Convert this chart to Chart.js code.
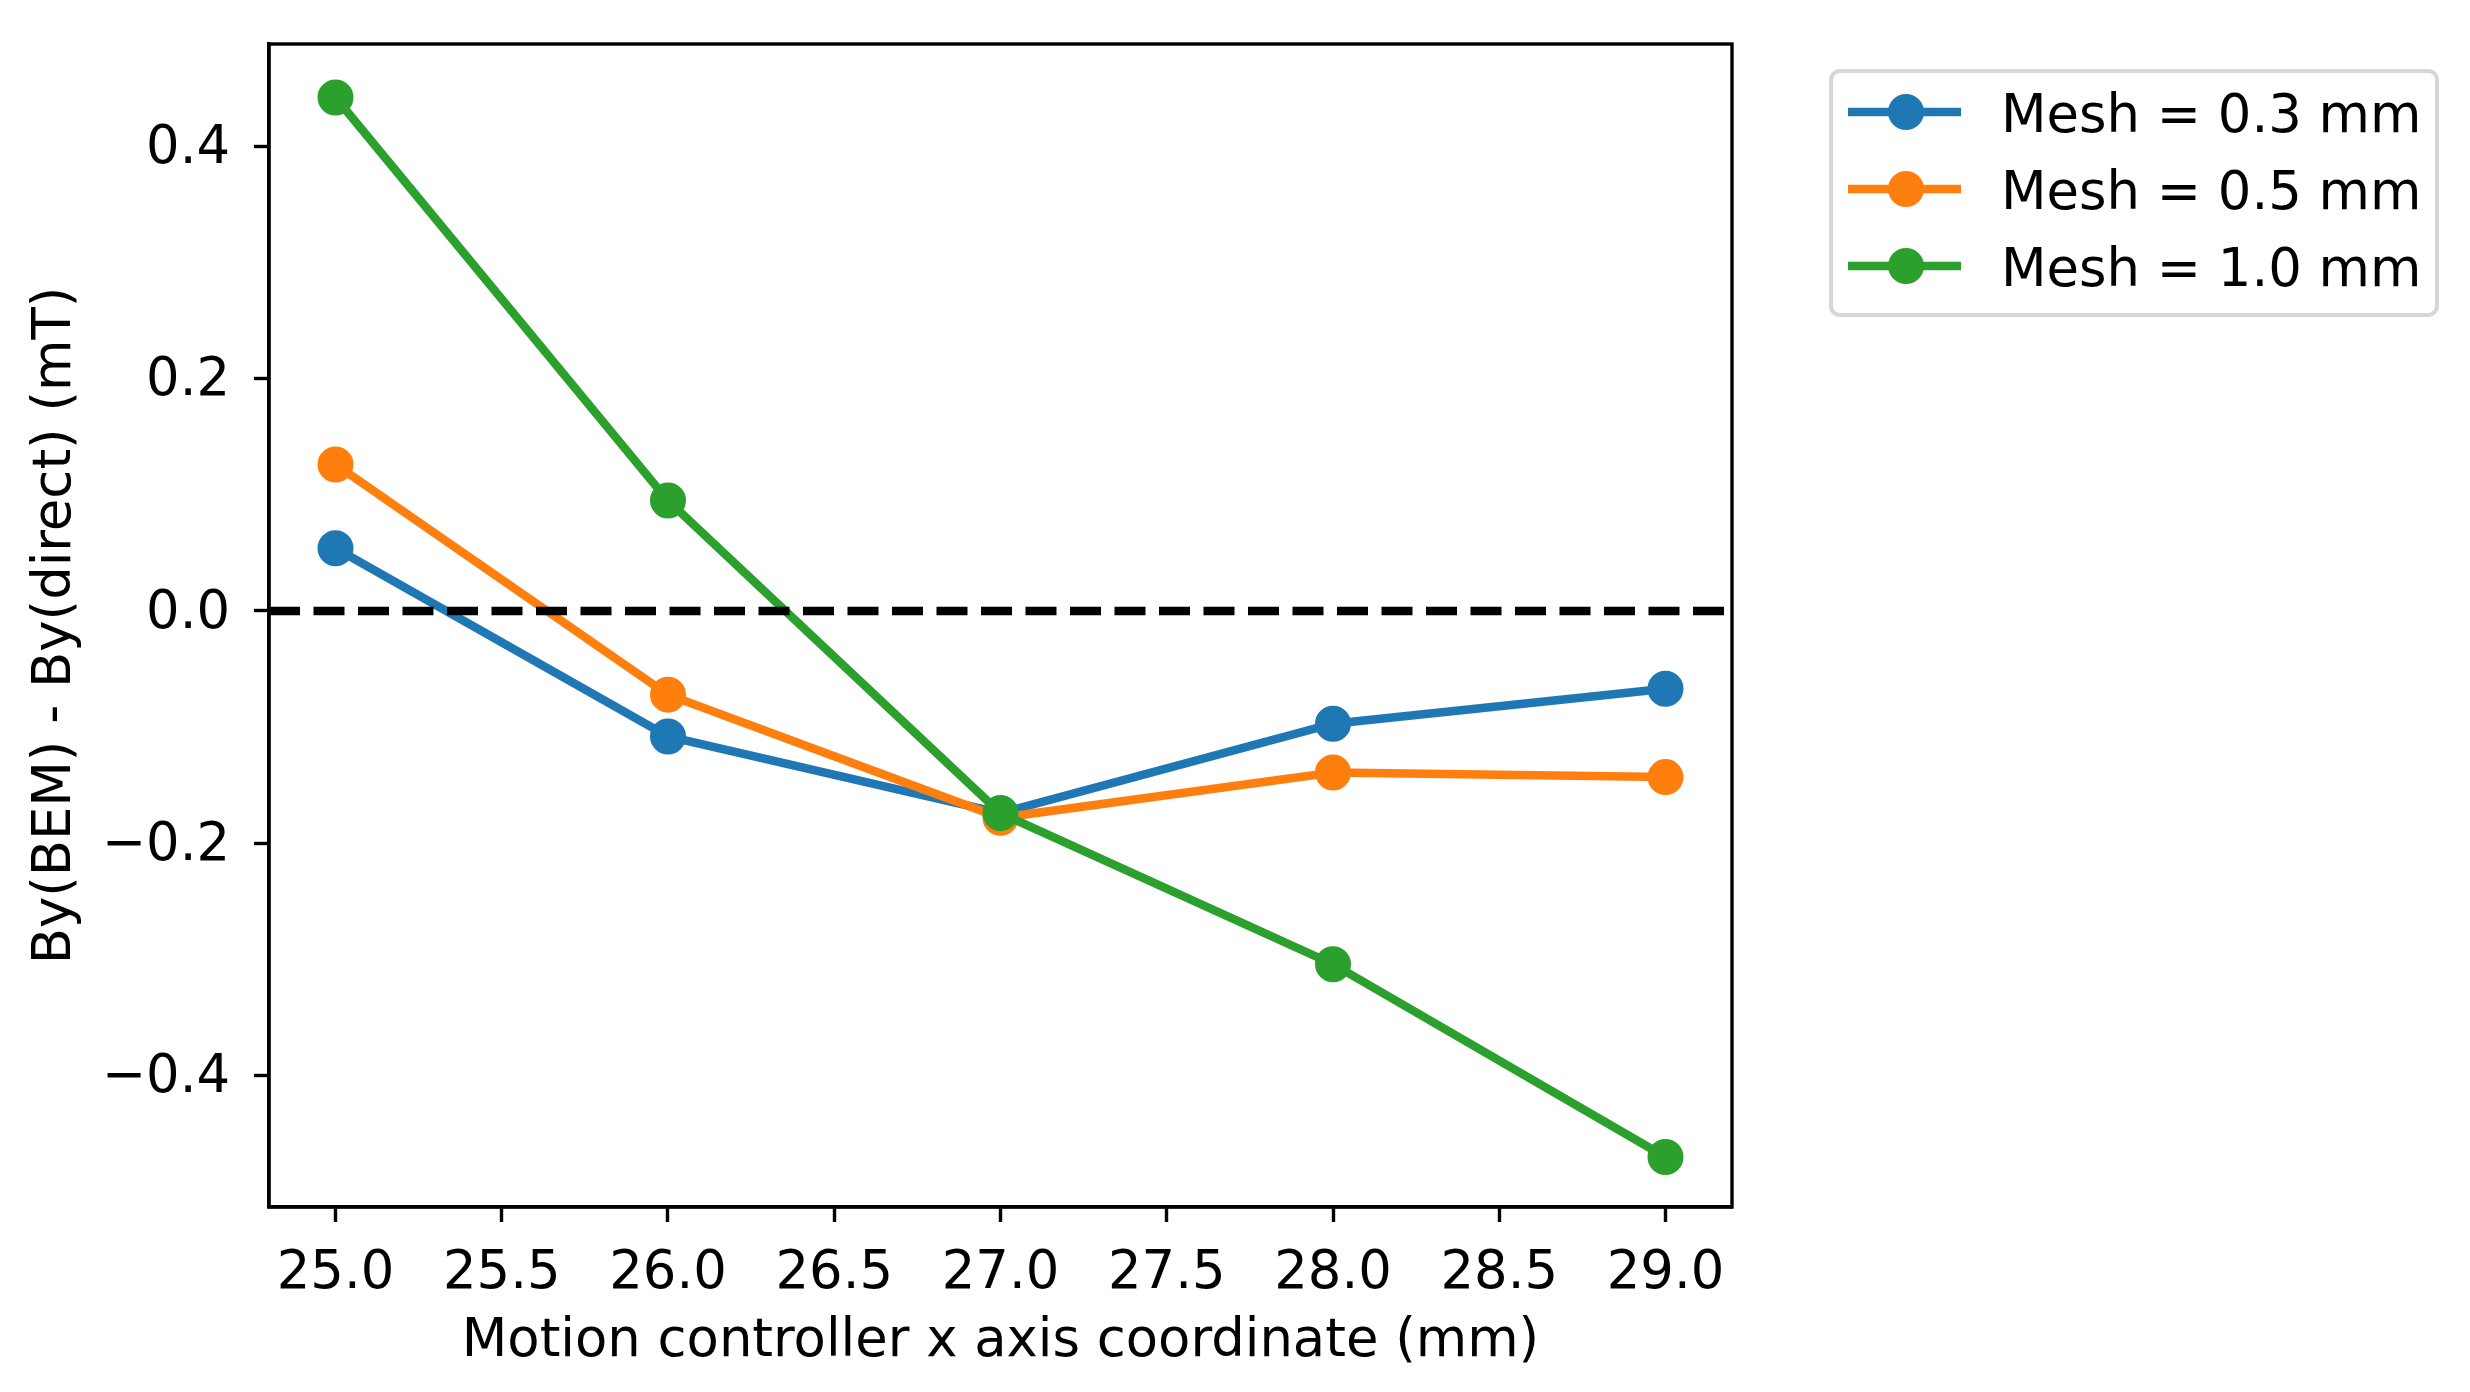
<!DOCTYPE html>
<html lang="en">
<head>
    <meta charset="UTF-8">
    <title>BEM vs direct By difference</title>
    <style>
        body {
            margin: 0;
            padding: 0;
            background-color: #ffffff;
            overflow: hidden;
        }
        #wrap {
            width: 2470px;
            height: 1392px;
        }
    </style>
</head>
<body>
    <div id="wrap">
        <canvas id="chart" width="2470" height="1392"></canvas>
    </div>

    <script src="https://cdn.jsdelivr.net/npm/chart.js"></script>
    <script>
        // x positions (mm) and the three mesh series (mT)
        const xCoords = [25.0, 26.0, 27.0, 28.0, 29.0];
        const mesh03 = [0.054, -0.108, -0.174, -0.097, -0.067];
        const mesh05 = [0.126, -0.072, -0.178, -0.139, -0.143];
        const mesh10 = [0.442, 0.095, -0.174, -0.304, -0.470];
        const seriesLabels = ['Mesh = 0.3 mm', 'Mesh = 0.5 mm', 'Mesh = 1.0 mm'];
        const seriesColors = ['#1f77b4', '#ff7f0e', '#2ca02c'];

        const xTicks = [25.0, 25.5, 26.0, 26.5, 27.0, 27.5, 28.0, 28.5, 29.0];
        const yTicks = [-0.4, -0.2, 0.0, 0.2, 0.4];
        const xRange = [24.8, 29.2];
        const yRange = [-0.513, 0.488];

        const FONT = "'DejaVu Sans', sans-serif";
        const FS = 52.8;
        const LW = 8.5;

        function toPoints(vals) {
            return vals.map((v, i) => ({ x: xCoords[i], y: v }));
        }

        function fmt(v) {
            const s = Math.abs(v).toFixed(1);
            return v < -1e-9 ? '\u2212' + s : s;
        }

        function seriesDataset(idx, vals, order) {
            return {
                label: seriesLabels[idx],
                data: toPoints(vals),
                borderColor: seriesColors[idx],
                backgroundColor: seriesColors[idx],
                borderWidth: LW,
                pointRadius: 16,
                pointBorderWidth: 4,
                pointBackgroundColor: seriesColors[idx],
                pointBorderColor: seriesColors[idx],
                tension: 0,
                fill: false,
                order: order
            };
        }

        // frame on all four sides, drawn above the lines like matplotlib spines
        const framePlugin = {
            id: 'frame',
            afterDatasetsDraw(chart) {
                const a = chart.chartArea;
                const ctx = chart.ctx;
                ctx.save();
                ctx.strokeStyle = '#000000';
                ctx.lineWidth = 3.4;
                ctx.strokeRect(a.left, a.top, a.right - a.left, a.bottom - a.top);
                ctx.restore();
            }
        };

        const legendPlugin = {
            id: 'mplLegend',
            afterDraw(chart) {
                const ctx = chart.ctx;
                const box = { x: 1831, y: 71, w: 606, h: 244, r: 9 };
                ctx.save();
                ctx.beginPath();
                ctx.roundRect(box.x, box.y, box.w, box.h, box.r);
                ctx.fillStyle = '#ffffff';
                ctx.fill();
                ctx.lineWidth = 4;
                ctx.strokeStyle = '#d6d6d6';
                ctx.stroke();

                const rows = [112, 189, 266];
                ctx.font = FS + 'px ' + FONT;
                ctx.textBaseline = 'alphabetic';
                ctx.textAlign = 'left';
                for (let i = 0; i < 3; i++) {
                    const ds = chart.data.datasets[i + 1];
                    const y = rows[i];
                    ctx.strokeStyle = ds.borderColor;
                    ctx.lineWidth = LW;
                    ctx.beginPath();
                    ctx.moveTo(1848, y);
                    ctx.lineTo(1961, y);
                    ctx.stroke();
                    ctx.beginPath();
                    ctx.arc(1906, y, 18, 0, Math.PI * 2);
                    ctx.fillStyle = ds.borderColor;
                    ctx.fill();
                    ctx.fillStyle = '#000000';
                    ctx.fillText(ds.label, 2001, y + 20);
                }
                ctx.restore();
            }
        };

        const chart = new Chart(document.getElementById('chart'), {
            type: 'line',
            data: {
                datasets: [
                    {
                        label: 'zero',
                        data: [{ x: xRange[0], y: 0 }, { x: xRange[1], y: 0 }],
                        borderColor: '#000000',
                        borderWidth: LW,
                        borderDash: [31, 13.5],
                        pointRadius: 0,
                        fill: false,
                        order: 0
                    },
                    seriesDataset(0, mesh03, 3),
                    seriesDataset(1, mesh05, 2),
                    seriesDataset(2, mesh10, 1)
                ]
            },
            options: {
                responsive: false,
                animation: false,
                devicePixelRatio: 1,
                layout: {
                    autoPadding: false,
                    padding: { top: 44, right: 738, left: 0, bottom: 0 }
                },
                plugins: {
                    legend: { display: false },
                    tooltip: { enabled: false }
                },
                scales: {
                    x: {
                        type: 'linear',
                        min: xRange[0],
                        max: xRange[1],
                        afterFit(scale) {
                            scale.height = 185;
                            scale.paddingLeft = 0;
                            scale.paddingRight = 0;
                        },
                        afterBuildTicks(scale) { scale.ticks = xTicks.map(v => ({ value: v })); },
                        grid: {
                            drawOnChartArea: false,
                            drawTicks: true,
                            tickLength: 15,
                            tickWidth: 3.4,
                            tickColor: '#000000'
                        },
                        border: { display: true, color: '#000000', width: 3.4 },
                        ticks: {
                            color: '#000000',
                            font: { family: FONT, size: FS },
                            padding: 21,
                            maxRotation: 0,
                            autoSkip: false,
                            callback: v => fmt(v)
                        },
                        title: {
                            display: true,
                            text: 'Motion controller x axis coordinate (mm)',
                            color: '#000000',
                            font: { family: FONT, size: FS },
                            padding: { top: 0, bottom: 18 }
                        }
                    },
                    y: {
                        type: 'linear',
                        min: yRange[0],
                        max: yRange[1],
                        afterFit(scale) {
                            scale.width = 269;
                            scale.paddingTop = 0;
                            scale.paddingBottom = 0;
                        },
                        afterBuildTicks(scale) { scale.ticks = yTicks.map(v => ({ value: v })); },
                        grid: {
                            drawOnChartArea: false,
                            drawTicks: true,
                            tickLength: 15,
                            tickWidth: 3.4,
                            tickColor: '#000000'
                        },
                        border: { display: true, color: '#000000', width: 3.4 },
                        ticks: {
                            color: '#000000',
                            font: { family: FONT, size: FS },
                            padding: 24,
                            labelOffset: 3,
                            autoSkip: false,
                            callback: v => fmt(v)
                        },
                        title: {
                            display: true,
                            text: 'By(BEM) - By(direct) (mT)',
                            color: '#000000',
                            font: { family: FONT, size: FS },
                            padding: { top: 25, bottom: 0 }
                        }
                    }
                }
            },
            plugins: [framePlugin, legendPlugin]
        });
    </script>
</body>
</html>
